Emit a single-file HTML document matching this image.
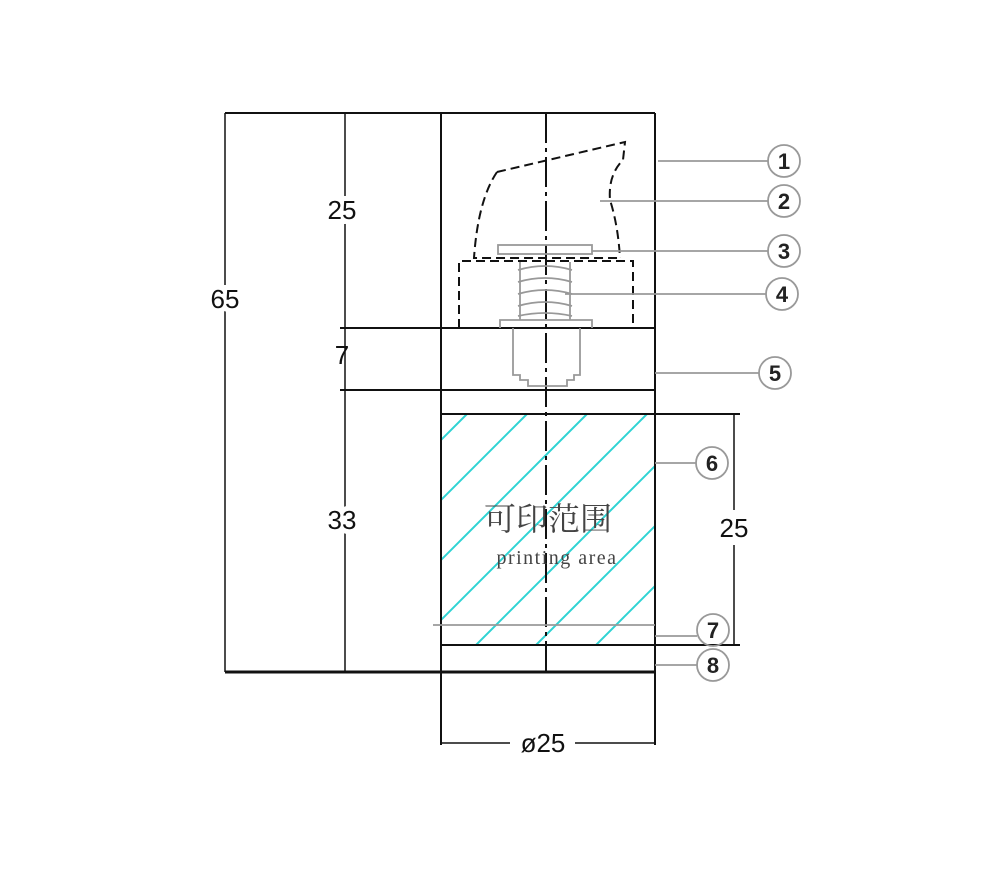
<!DOCTYPE html>
<html><head><style>body{margin:0;background:#fff}svg{display:block}</style></head><body>
<svg width="1000" height="875" viewBox="0 0 1000 875" xmlns="http://www.w3.org/2000/svg" font-family="Liberation Sans, sans-serif">
<defs><clipPath id="c"><rect x="441" y="414" width="214" height="231"/></clipPath></defs>
<g clip-path="url(#c)" stroke="#2fd3d3" stroke-width="2">
<line x1="467" y1="414" x2="167" y2="714"/>
<line x1="527" y1="414" x2="227" y2="714"/>
<line x1="587" y1="414" x2="287" y2="714"/>
<line x1="647" y1="414" x2="347" y2="714"/>
<line x1="707" y1="414" x2="407" y2="714"/>
<line x1="767" y1="414" x2="467" y2="714"/>
<line x1="827" y1="414" x2="527" y2="714"/>
<line x1="887" y1="414" x2="587" y2="714"/>
</g>
<g stroke="#111" stroke-width="2" fill="none">
<line x1="225" y1="113" x2="655" y2="113"/>
<line x1="441" y1="113" x2="441" y2="745"/>
<line x1="655" y1="113" x2="655" y2="745"/>
<line x1="340" y1="328" x2="655" y2="328"/>
<line x1="340" y1="390" x2="655" y2="390"/>
<line x1="441" y1="414" x2="740" y2="414"/>
<line x1="441" y1="645" x2="740" y2="645"/>
<line x1="225" y1="672" x2="655" y2="672" stroke-width="3"/>
<line x1="225" y1="113" x2="225" y2="672" stroke-width="1.5"/>
<line x1="345" y1="113" x2="345" y2="328" stroke-width="1.5"/>
<line x1="345" y1="390" x2="345" y2="672" stroke-width="1.5"/>
<line x1="345" y1="328" x2="345" y2="390" stroke-width="1.5"/>
<line x1="734" y1="414" x2="734" y2="510" stroke-width="1.5"/>
<line x1="734" y1="545" x2="734" y2="645" stroke-width="1.5"/>
<line x1="441" y1="743" x2="510" y2="743" stroke-width="1.5"/>
<line x1="575" y1="743" x2="655" y2="743" stroke-width="1.5"/>
<line x1="546" y1="113" x2="546" y2="672" stroke-dasharray="30,5,4,5"/>
<path d="M497 172 L625 142 L623 160 Q608 175 610 200 Q618 225 620 258 M497 172 Q478 200 474 258 L620 258" stroke-dasharray="9,5"/>
<path d="M459 328 L459 261 L633 261 L633 328" stroke-dasharray="9,5"/>
</g>
<g stroke="#999" stroke-width="1.8" fill="none">
<rect x="498" y="245" width="94" height="9"/>
<path d="M520 262 L520 320 M570 262 L570 320"/>
<path d="M518 270 Q545 262 572 270 M518 282 Q545 274 572 282 M518 294 Q545 286 572 294 M518 306 Q545 298 572 306 M518 316 Q545 310 572 316"/>
<path d="M500 328 L500 320 L592 320 L592 328 M513 328 L513 375 L520 375 L520 380 L528 380 L528 386 L567 386 L567 380 L574 380 L574 375 L580 375 L580 328"/>
<line x1="433" y1="625" x2="655" y2="625"/>
<line x1="658" y1="161" x2="768" y2="161"/>
<line x1="600" y1="201" x2="768" y2="201"/>
<line x1="592" y1="251" x2="768" y2="251"/>
<line x1="565" y1="294" x2="766" y2="294"/>
<line x1="655" y1="373" x2="759" y2="373"/>
<line x1="655" y1="463" x2="696" y2="463"/>
<line x1="655" y1="636" x2="697" y2="636"/>
<line x1="655" y1="665" x2="697" y2="665"/>
<circle cx="784" cy="161" r="16"/><circle cx="784" cy="201" r="16"/><circle cx="784" cy="251" r="16"/><circle cx="782" cy="294" r="16"/><circle cx="775" cy="373" r="16"/><circle cx="712" cy="463" r="16"/><circle cx="713" cy="630" r="16"/><circle cx="713" cy="665" r="16"/>
</g>
<g font-size="22" font-weight="bold" fill="#222" text-anchor="middle">
<text x="784" y="169">1</text><text x="784" y="209">2</text><text x="784" y="259">3</text><text x="782" y="302">4</text><text x="775" y="381">5</text><text x="712" y="471">6</text><text x="713" y="638">7</text><text x="713" y="673">8</text>
</g>
<g font-size="26" fill="#111" text-anchor="middle">
<text x="225" y="308" style="paint-order:stroke" stroke="#fff" stroke-width="10">65</text>
<text x="342" y="219" stroke="#fff" stroke-width="10" style="paint-order:stroke">25</text>
<text x="342" y="364">7</text>
<text x="342" y="529" stroke="#fff" stroke-width="10" style="paint-order:stroke">33</text>
<text x="734" y="537">25</text>
<text x="543" y="752">ø25</text>
</g>
<text x="548" y="530" font-size="32" fill="#444" text-anchor="middle" font-family="Noto Serif CJK SC, serif">可印范围</text>
<text x="557" y="564" font-size="20" fill="#444" text-anchor="middle" font-family="Liberation Serif, serif" letter-spacing="1.5">printing area</text>
</svg>
</body></html>
